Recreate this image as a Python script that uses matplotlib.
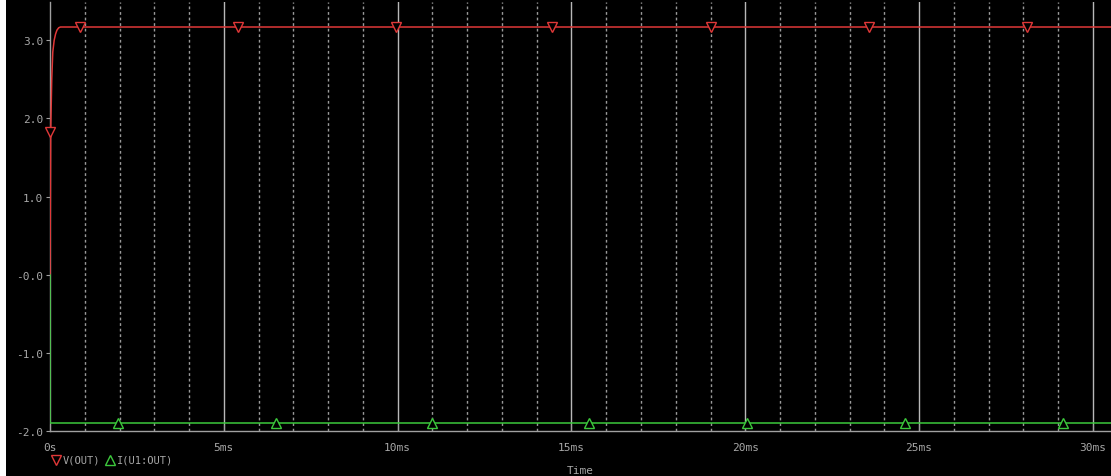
import numpy as np
import matplotlib.pyplot as plt
from matplotlib.patches import Rectangle
from matplotlib.lines import Line2D

# transient simulation traces (time in ms)
t_v = [0.0, 0.02, 0.05, 0.08, 0.12, 0.16, 0.2, 0.25, 0.3, 30.6]
v_out = [0.0, 1.83, 2.5, 2.85, 3.0, 3.08, 3.13, 3.16, 3.17, 3.17]
t_i = [0.0, 0.0, 30.6]
i_out = [0.0, -1.9, -1.9]

# marker positions along each trace
v_mark_t = [0.0, 0.87, 5.4, 9.95, 14.45, 19.0, 23.55, 28.1]
i_mark_t = [1.96, 6.5, 11.0, 15.5, 20.05, 24.6, 29.15]

x_ticks = [0, 5, 10, 15, 20, 25, 30]
x_labels = ["0s", "5ms", "10ms", "15ms", "20ms", "25ms", "30ms"]
y_ticks = [-2.0, -1.0, 0.0, 1.0, 2.0, 3.0]
y_labels = ["-2.0", "-1.0", "-0.0", "1.0", "2.0", "3.0"]

W, H = 1111, 477
fig = plt.figure(figsize=(W / 100, H / 100), dpi=100, facecolor="black")
ax = fig.add_axes([50 / W, 1 - 432 / H, (W - 50) / W, (432 - 3) / H], facecolor="black")
fig.patches.append(Rectangle((0, 0), 6 / W, 1, transform=fig.transFigure,
                             facecolor="white", edgecolor="none", zorder=-1))

txt = "#a8a8a8"
red = "#e03838"
green = "#3cc83c"

# grid: solid every 5 ms, dotted every 1 ms
for x in range(1, 31):
    if x % 5 == 0:
        ax.axvline(x, color="#b8b8b8", lw=1.0, zorder=1)
    else:
        ax.axvline(x, color="#9a9a9a", lw=1.0, ls=(0, (2, 2)), zorder=1)

ax.plot(t_v, v_out, color=red, lw=1.1, zorder=3)
ax.plot(t_i, i_out, color=green, lw=1.1, zorder=3)
v_mark_y = [1.83] + list(np.interp(v_mark_t[1:], t_v, v_out))
ax.plot(v_mark_t, v_mark_y, ls="none", marker="v",
        ms=7, mfc="black", mec=red, mew=1.0, zorder=4, clip_on=False)
ax.plot(i_mark_t, np.interp(i_mark_t, t_i[1:], i_out[1:]), ls="none", marker="^",
        ms=7, mfc="black", mec=green, mew=1.0, zorder=4)

ax.set_xlim(0, 30.52)
ax.set_ylim(-2.0, 3.49)
for s in ["top", "right"]:
    ax.spines[s].set_visible(False)
for s in ["left", "bottom"]:
    ax.spines[s].set_color("#a0a0a0")
    ax.spines[s].set_linewidth(1.0)
    ax.spines[s].set_zorder(2)

ax.set_xticks(x_ticks)
ax.set_xticklabels(x_labels)
ax.set_yticks(y_ticks)
ax.set_yticklabels(y_labels)
ax.tick_params(axis="x", length=5, direction="in", color="#a0a0a0", colors=txt,
               labelsize=8, pad=8)
ax.tick_params(axis="y", length=3, direction="out", color="#a0a0a0", colors=txt,
               labelsize=8, pad=2)
for lab in ax.get_xticklabels() + ax.get_yticklabels():
    lab.set_family("DejaVu Sans Mono")

fig.text(580 / W, 1 - 471 / H, "Time", color=txt, fontsize=8,
         family="DejaVu Sans Mono", ha="center", va="center")

# legend row under the axis
ly = 1 - 461 / H
fig.add_artist(Line2D([56 / W], [ly], transform=fig.transFigure, ls="none",
                      marker="v", ms=6.5, mfc="black", mec=red, mew=1.0))
fig.text(63 / W, ly, "V(OUT)", color=txt, fontsize=7.5,
         family="DejaVu Sans Mono", ha="left", va="center")
fig.add_artist(Line2D([110 / W], [ly], transform=fig.transFigure, ls="none",
                      marker="^", ms=6.5, mfc="black", mec=green, mew=1.0))
fig.text(117 / W, ly, "I(U1:OUT)", color=txt, fontsize=7.5,
         family="DejaVu Sans Mono", ha="left", va="center")

fig.savefig("out.png", dpi=100, facecolor="black")
